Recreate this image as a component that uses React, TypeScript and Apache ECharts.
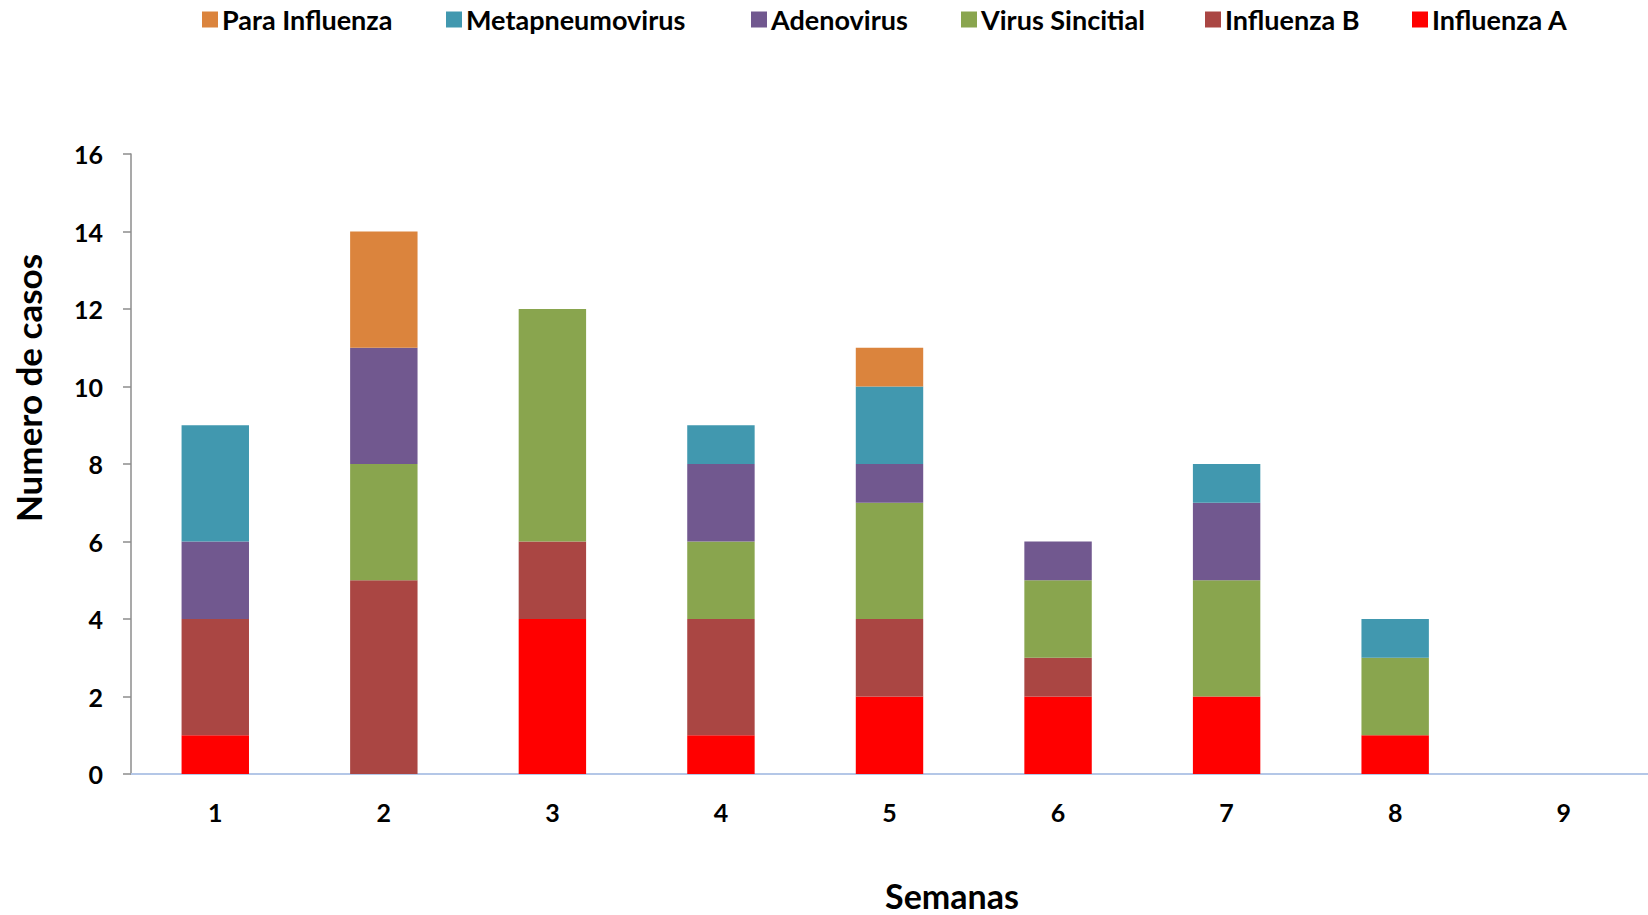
import React, { useEffect, useRef } from "react";
import * as echarts from "echarts";

const categories = ["1", "2", "3", "4", "5", "6", "7", "8", "9"];
const influenzaA = [1, 0, 4, 1, 2, 2, 2, 1, 0];
const influenzaB = [3, 5, 2, 3, 2, 1, 0, 0, 0];
const virusSincitial = [0, 3, 6, 2, 3, 2, 3, 2, 0];
const adenovirus = [2, 3, 0, 2, 1, 1, 2, 0, 0];
const metapneumovirus = [3, 0, 0, 1, 2, 0, 1, 1, 0];
const paraInfluenza = [0, 3, 0, 0, 1, 0, 0, 0, 0];

const seriesDefs = [
  { name: "Influenza A", data: influenzaA, color: "#FF0000" },
  { name: "Influenza B", data: influenzaB, color: "#AA4643" },
  { name: "Virus Sincitial", data: virusSincitial, color: "#89A54E" },
  { name: "Adenovirus", data: adenovirus, color: "#71588F" },
  { name: "Metapneumovirus", data: metapneumovirus, color: "#4198AF" },
  { name: "Para Influenza", data: paraInfluenza, color: "#DB843D" },
];

const legendOrder = ["Para Influenza", "Metapneumovirus", "Adenovirus", "Virus Sincitial", "Influenza B", "Influenza A"];
const legendLefts = [197, 441, 746, 956, 1200, 1407];

const FONT = "Lato, 'Open Sans', sans-serif";

export default function App() {
  const ref = useRef<HTMLDivElement>(null);
  useEffect(() => {
    document.body.style.margin = "0";
    document.body.style.overflow = "hidden";
    const chart = echarts.init(ref.current!, undefined, { renderer: "svg" });
    chart.setOption({
      animation: false,
      backgroundColor: "#fff",
      legend: legendOrder.map((n, i) => ({
        data: [n],
        left: legendLefts[i],
        top: 1,
        itemWidth: 16,
        itemHeight: 16,
        itemGap: 6,
        icon: "rect",
        textStyle: { fontFamily: FONT, fontWeight: "bold", fontSize: 27, color: "#000", padding: [0, 0, 0, -1] },
      })),
      grid: { left: 131, top: 154, width: 1521, height: 620, containLabel: false },
      xAxis: {
        type: "category",
        data: categories,
        axisLine: { show: true, lineStyle: { color: "#B4C7E7", width: 2 } },
        axisTick: { show: false },
        axisLabel: { fontFamily: FONT, fontWeight: "bold", fontSize: 25, color: "#000", margin: 25 },
      },
      yAxis: {
        type: "value",
        min: 0,
        max: 16,
        interval: 2,
        axisLine: { show: true, lineStyle: { color: "#8C8C8C", width: 1.5 } },
        axisTick: { show: true, inside: false, length: 8, lineStyle: { color: "#8C8C8C", width: 1.5 } },
        splitLine: { show: false },
        axisLabel: { fontFamily: FONT, fontWeight: "bold", fontSize: 25, color: "#000", margin: 28 },
      },
      graphic: [
        {
          type: "text",
          x: 28,
          y: 388,
          rotation: Math.PI / 2,
          style: {
            text: "Numero de casos",
            font: `bold 35px ${FONT}`,
            fill: "#000",
            textAlign: "center",
            textVerticalAlign: "middle",
            align: "center",
            verticalAlign: "middle",
          },
        },
        {
          type: "text",
          x: 952,
          y: 895,
          style: {
            text: "Semanas",
            font: `bold 34px ${FONT}`,
            fill: "#000",
            textAlign: "center",
            textVerticalAlign: "middle",
            align: "center",
            verticalAlign: "middle",
          },
        },
      ],
      series: seriesDefs.map((s) => ({
        name: s.name,
        type: "bar",
        stack: "total",
        data: s.data,
        barWidth: "40%",
        itemStyle: { color: s.color },
      })),
    });
    return () => chart.dispose();
  }, []);
  return <div ref={ref} style={{ width: 1648, height: 915 }} />;
}
